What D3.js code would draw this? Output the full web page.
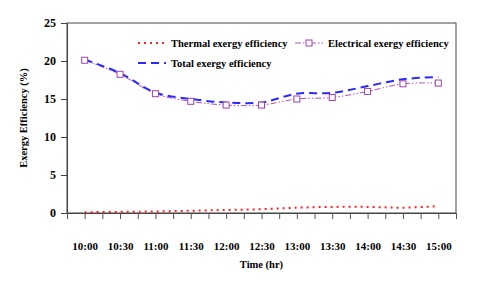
<!DOCTYPE html>
<html>
<head>
<meta charset="utf-8">
<script src="https://cdn.jsdelivr.net/npm/d3@7"></script>
<style>
  body { margin: 0; background: #fff; }
</style>
</head>
<body>
<svg id="chart" width="480" height="286"></svg>
<script>
// time labels, minutes after 10:00
var times = ["10:00", "10:30", "11:00", "11:30", "12:00", "12:30", "13:00", "13:30", "14:00", "14:30", "15:00"];
var minutes = [0, 30, 60, 90, 120, 150, 180, 210, 240, 270, 300];
var thermal = [0.1, 0.15, 0.2, 0.3, 0.4, 0.5, 0.7, 0.8, 0.8, 0.7, 0.9];
var electrical = [20.1, 18.25, 15.7, 14.7, 14.2, 14.2, 15.0, 15.2, 16.0, 17.0, 17.1];
var total = [20.2, 18.4, 15.85, 15.0, 14.55, 14.55, 15.7, 15.8, 16.7, 17.6, 17.9];
var yTicks = [0, 5, 10, 15, 20, 25];

var FONT = "'Liberation Serif'";

var svg = d3.select("#chart"),
    margin = { top: 23, right: 24, bottom: 73, left: 67 },
    width = +svg.attr("width") - margin.left - margin.right,
    height = +svg.attr("height") - margin.top - margin.bottom;

var x = d3.scaleLinear().domain([-15, 315]).range([0, width]);
var y = d3.scaleLinear().domain([0, 25]).range([height, 0]);

var g = svg.append("g")
    .attr("transform", "translate(" + margin.left + "," + margin.top + ")");

// frame
g.append("rect")
    .attr("width", width).attr("height", height)
    .attr("fill", "none").attr("stroke", "#444").attr("stroke-width", 1);

function serif(sel, size) {
    sel.style("font-family", FONT).style("font-weight", "bold").style("font-size", size + "px");
}

// y axis
var yAxis = g.append("g")
    .call(d3.axisLeft(y).tickValues(yTicks).tickSize(6).tickPadding(5));
yAxis.select(".domain").attr("stroke", "#444");
yAxis.selectAll(".tick line").attr("stroke", "#444");
serif(yAxis.selectAll("text"), 12);

// x axis: ticks every 15 min, labels every 30 min
var xAxis = g.append("g")
    .attr("transform", "translate(0," + height + ")")
    .call(d3.axisBottom(x).tickValues(d3.range(-15, 316, 15)).tickSize(6).tickPadding(23)
        .tickFormat(function (v) {
            var i = minutes.indexOf(v);
            return i >= 0 ? times[i] : "";
        }));
xAxis.select(".domain").attr("stroke", "#444");
xAxis.selectAll(".tick line").attr("stroke", "#555");
serif(xAxis.selectAll("text"), 11);

// axis titles
svg.append("text")
    .attr("x", margin.left + width / 2).attr("y", 268)
    .attr("text-anchor", "middle")
    .call(serif, 10.5)
    .text("Time (hr)");
svg.append("text")
    .attr("transform", "translate(27," + (margin.top + height / 2) + ") rotate(-90)")
    .attr("text-anchor", "middle")
    .call(serif, 10.5)
    .text("Exergy Efficiency (%)");

function lineFor(vals) {
    return d3.line()
        .x(function (d, i) { return x(minutes[i]); })
        .y(function (d) { return y(d); })
        .curve(d3.curveCatmullRom.alpha(0.5))(vals);
}

// thermal
g.append("path").attr("d", lineFor(thermal))
    .attr("fill", "none").attr("stroke", "#ff2020").attr("stroke-width", 2)
    .attr("stroke-dasharray", "2,4");

// electrical
g.append("path").attr("d", lineFor(electrical))
    .attr("fill", "none").attr("stroke", "#b050c0").attr("stroke-width", 1)
    .attr("stroke-dasharray", "6,2,1.5,2,1.5,2");

// total
g.append("path").attr("d", lineFor(total))
    .attr("fill", "none").attr("stroke", "#2a2aff").attr("stroke-width", 2)
    .attr("stroke-dasharray", "8,5");

// electrical markers
g.selectAll(".marker")
    .data(electrical)
    .enter().append("rect")
    .attr("class", "marker")
    .attr("x", function (d, i) { return x(minutes[i]) - 3; })
    .attr("y", function (d) { return y(d) - 3; })
    .attr("width", 6).attr("height", 6)
    .attr("fill", "#fff").attr("stroke", "#a040b0").attr("stroke-width", 1);

// legend
var legend = svg.append("g");
function legendItem(lx, ly, label, stroke, sw, dash, marker) {
    legend.append("line")
        .attr("x1", lx).attr("x2", lx + 28).attr("y1", ly).attr("y2", ly)
        .attr("stroke", stroke).attr("stroke-width", sw).attr("stroke-dasharray", dash);
    if (marker) {
        legend.append("rect")
            .attr("x", lx + 11).attr("y", ly - 3).attr("width", 6).attr("height", 6)
            .attr("fill", "#fff").attr("stroke", "#a040b0");
    }
    legend.append("text")
        .attr("x", lx + 33).attr("y", ly + 4)
        .call(serif, 10.5)
        .text(label);
}
legendItem(138, 43, "Thermal exergy efficiency", "#ff2020", 2, "2,4", false);
legendItem(295, 43, "Electrical exergy efficiency", "#b050c0", 1, "6,2,1.5,2,1.5,2", true);
legendItem(138, 63, "Total exergy efficiency", "#2a2aff", 2, "8,5", false);
</script>
</body>
</html>
